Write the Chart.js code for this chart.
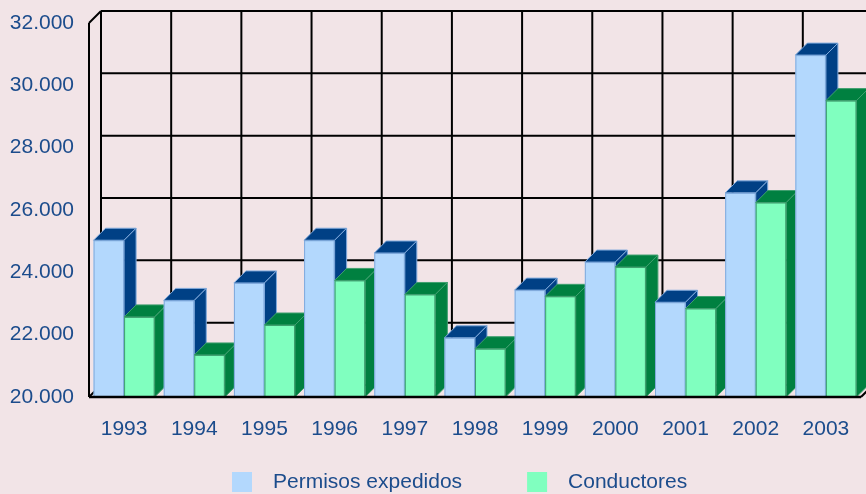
<!DOCTYPE html>
<html>
<head>
<meta charset="utf-8">
<script src="https://cdn.jsdelivr.net/npm/chart.js@4.4.0/dist/chart.umd.min.js"></script>
<style>
  html, body { margin: 0; padding: 0; background: #f2e4e7; }
  #wrap { width: 866px; height: 494px; position: relative; }
</style>
</head>
<body>
<div id="wrap"><canvas id="chart"></canvas></div>
<script>
// data
var years = ['1993', '1994', '1995', '1996', '1997', '1998', '1999', '2000', '2001', '2002', '2003'];
var permisos = [25030, 23100, 23660, 25030, 24620, 21900, 23430, 24330, 23040, 26550, 30970];
var conductores = [22570, 21350, 22310, 23740, 23290, 21550, 23230, 24170, 22840, 26240, 29510];
var yMin = 20000, yMax = 32000, yStep = 2000;

var seriesNames = ['Permisos expedidos', 'Conductores'];
var frontColors = ['#b3d8fd', '#80ffbf'];
var darkColors = ['#004085', '#008040'];
var edgeColors = ['#7fa9dc', '#3f9f6f'];

var textColor = '#1c4c8c';
var fontFam = '"Liberation Sans", Arial, sans-serif';
var DX = 12, DY = 12;   // depth of the fake 3d

Chart.defaults.font.family = fontFam;
Chart.defaults.color = textColor;

function fmt(v) {
  return String(v).replace(/\B(?=(\d{3})+(?!\d))/g, '.');
}

function line(ctx, x1, y1, x2, y2) {
  ctx.beginPath();
  ctx.moveTo(x1, y1);
  ctx.lineTo(x2, y2);
  ctx.stroke();
}

var fake3d = {
  id: 'fake3d',
  beforeDraw: function(chart) {
    var ctx = chart.ctx;
    ctx.save();
    ctx.fillStyle = '#f2e4e7';
    ctx.fillRect(0, 0, chart.width, chart.height);
    ctx.restore();
  },
  beforeDatasetsDraw: function(chart) {
    var ctx = chart.ctx, a = chart.chartArea;
    var ys = chart.scales.y;
    var n = years.length;
    var cw = a.width / n;
    ctx.save();
    ctx.strokeStyle = '#000';
    ctx.lineWidth = 2;
    // back wall grid
    ys.ticks.forEach(function(t) {
      var y = ys.getPixelForValue(t.value) - DY;
      line(ctx, a.left + DX, y, a.right + DX, y);
    });
    for (var k = 0; k <= n; k++) {
      var x = a.left + k * cw + DX;
      line(ctx, x, a.top - DY, x, a.bottom - DY);
    }
    // side wall and floor
    line(ctx, a.left, a.top, a.left, a.bottom);
    line(ctx, a.left, a.top, a.left + DX, a.top - DY);
    line(ctx, a.left, a.bottom, a.left + DX, a.bottom - DY);
    line(ctx, a.right, a.bottom, a.right + DX, a.bottom - DY);

    // bars, category by category so the overlaps come out right
    var metas = [chart.getDatasetMeta(0), chart.getDatasetMeta(1)];
    var floorY = ys.getPixelForValue(yMin);
    ctx.lineWidth = 1;
    for (var i = 0; i < n; i++) {
      for (var d = 0; d < metas.length; d++) {
        var p = metas[d].data[i].getProps(['x', 'y', 'base', 'width'], true);
        var x0 = p.x - p.width / 2, x1 = p.x + p.width / 2;
        var top = p.y, base = Math.min(p.base, floorY);
        // front
        ctx.fillStyle = frontColors[d];
        ctx.fillRect(x0, top, x1 - x0, base - top);
        ctx.strokeStyle = edgeColors[d];
        ctx.strokeRect(x0 + 0.5, top + 0.5, x1 - x0 - 1, base - top - 1);
        // top
        ctx.fillStyle = darkColors[d];
        ctx.beginPath();
        ctx.moveTo(x0, top);
        ctx.lineTo(x0 + DX, top - DY);
        ctx.lineTo(x1 + DX, top - DY);
        ctx.lineTo(x1, top);
        ctx.closePath();
        ctx.fill();
        ctx.stroke();
        // side
        ctx.beginPath();
        ctx.moveTo(x1, top);
        ctx.lineTo(x1 + DX, top - DY);
        ctx.lineTo(x1 + DX, base - DY);
        ctx.lineTo(x1, base);
        ctx.closePath();
        ctx.fill();
        ctx.stroke();
      }
    }
    // floor edge over the bar bottoms
    ctx.strokeStyle = '#000';
    ctx.lineWidth = 2.5;
    line(ctx, a.left, a.bottom, a.right, a.bottom);
    ctx.restore();
    return false;
  },
  afterDraw: function(chart) {
    // legend under the axis
    var ctx = chart.ctx;
    ctx.save();
    ctx.font = '21px ' + fontFam;
    ctx.textBaseline = 'middle';
    ctx.textAlign = 'left';
    var x = 232, y = 472;
    for (var d = 0; d < seriesNames.length; d++) {
      ctx.fillStyle = frontColors[d];
      ctx.fillRect(x, y, 20, 20);
      ctx.fillStyle = textColor;
      ctx.fillText(seriesNames[d], x + 41, y + 10);
      x += 41 + ctx.measureText(seriesNames[d]).width + 65;
    }
    ctx.restore();
  }
};

new Chart(document.getElementById('chart'), {
  type: 'bar',
  data: {
    labels: years,
    datasets: [
      { label: seriesNames[0], data: permisos, backgroundColor: frontColors[0] },
      { label: seriesNames[1], data: conductores, backgroundColor: frontColors[1] }
    ]
  },
  options: {
    responsive: true,
    maintainAspectRatio: false,
    animation: false,
    layout: { padding: { top: 23, right: 5, left: 0, bottom: 0 } },
    datasets: { bar: { categoryPercentage: 0.87, barPercentage: 1.0 } },
    plugins: {
      legend: { display: false },
      tooltip: { enabled: false }
    },
    scales: {
      x: {
        grid: { display: false, drawTicks: false },
        border: { display: false },
        ticks: { font: { size: 21 }, padding: 20, color: textColor },
        afterFit: function(s) {
          s.height = 97;
          s.paddingLeft = 0;
          s.paddingRight = 0;
        }
      },
      y: {
        min: yMin,
        max: yMax,
        grid: { display: false, drawTicks: false },
        border: { display: false },
        ticks: {
          stepSize: yStep,
          font: { size: 21 },
          padding: 15,
          color: textColor,
          callback: function(v) { return fmt(v); }
        },
        afterFit: function(s) {
          s.width = 89;
          s.paddingTop = 0;
          s.paddingBottom = 0;
        }
      }
    }
  },
  plugins: [fake3d]
});
</script>
</body>
</html>
